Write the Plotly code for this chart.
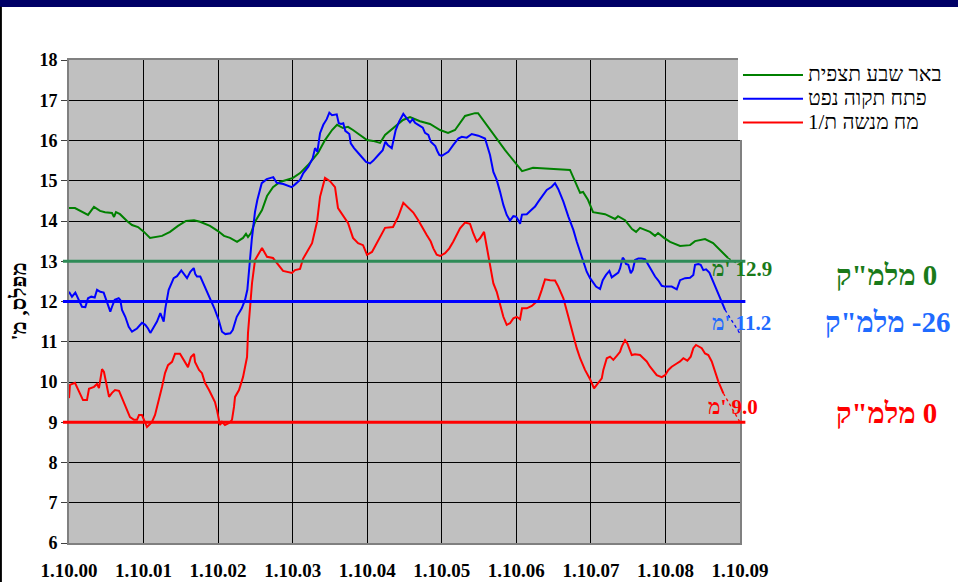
import plotly.graph_objects as go

# ---------------- data ----------------
x_tick_vals = [0, 1, 2, 3, 4, 5, 6, 7, 8, 9]
x_tick_labels = ["1.10.00", "1.10.01", "1.10.02", "1.10.03", "1.10.04",
                 "1.10.05", "1.10.06", "1.10.07", "1.10.08", "1.10.09"]

series_names = ["באר שבע תצפית", "פתח תקוה נפט", "מח מנשה ת/1"]

# years since 1.10.00
green_t = [0.00, 0.08, 0.255, 0.335, 0.416, 0.483, 0.577, 0.604, 0.630, 0.684,
           0.778, 0.845, 0.926, 1.006, 1.087, 1.248, 1.355, 1.462, 1.569, 1.677,
           1.757, 1.891, 1.999, 2.079, 2.160, 2.254, 2.334, 2.374, 2.401, 2.441,
           2.495, 2.589, 2.656, 2.736, 2.830, 2.938, 3.005, 3.099, 3.206, 3.340,
           3.434, 3.528, 3.595, 3.675, 3.742, 3.809, 3.903, 3.997, 4.078, 4.172,
           4.239, 4.346, 4.480, 4.574, 4.708, 4.842, 4.977, 5.084, 5.178, 5.312,
           5.446, 5.487, 5.648, 5.849, 6.077, 6.224, 6.720, 6.787, 6.855, 6.895,
           6.962, 7.029, 7.096, 7.190, 7.324, 7.364, 7.458, 7.552, 7.606, 7.659,
           7.726, 7.793, 7.860, 7.901, 7.981, 8.062, 8.196, 8.330, 8.397, 8.531,
           8.639, 8.733, 8.840]
green_v = [14.32, 14.32, 14.15, 14.35, 14.25, 14.22, 14.20, 14.10, 14.22, 14.17,
           14.00, 13.90, 13.85, 13.73, 13.58, 13.63, 13.73, 13.88, 14.00, 14.02,
           13.98, 13.88, 13.75, 13.63, 13.58, 13.48, 13.58, 13.68, 13.60, 13.70,
           13.98, 14.27, 14.62, 14.84, 14.97, 15.04, 15.07, 15.19, 15.39, 15.69,
           16.01, 16.26, 16.39, 16.31, 16.34, 16.26, 16.14, 16.01, 15.99, 15.94,
           16.14, 16.31, 16.51, 16.58, 16.48, 16.41, 16.26, 16.19, 16.26, 16.61,
           16.68, 16.68, 16.26, 15.76, 15.24, 15.32, 15.27, 14.97, 14.70, 14.72,
           14.52, 14.22, 14.20, 14.17, 14.05, 14.12, 14.02, 13.80, 13.73, 13.83,
           13.78, 13.73, 13.63, 13.70, 13.58, 13.48, 13.38, 13.40, 13.50, 13.55,
           13.45, 13.28, 13.08]

blue_t = [0.00, 0.04, 0.085, 0.12, 0.174, 0.219, 0.255, 0.299, 0.345, 0.376,
          0.42, 0.465, 0.51, 0.554, 0.577, 0.613, 0.667, 0.688, 0.711, 0.755,
          0.801, 0.845, 0.912, 0.979, 1.023, 1.06, 1.091, 1.136, 1.18, 1.225,
          1.248, 1.27, 1.292, 1.337, 1.404, 1.449, 1.506, 1.539, 1.583, 1.627,
          1.673, 1.694, 1.717, 1.761, 1.807, 1.851, 1.895, 1.954, 2.008, 2.052,
          2.097, 2.164, 2.196, 2.25, 2.317, 2.361, 2.392, 2.419, 2.451, 2.495,
          2.526, 2.585, 2.652, 2.74, 2.786, 2.875, 2.987, 3.032, 3.099, 3.143,
          3.21, 3.269, 3.3, 3.331, 3.367, 3.411, 3.457, 3.492, 3.528, 3.591,
          3.618, 3.649, 3.679, 3.706, 3.76, 3.779, 3.823, 3.903, 3.984, 4.038,
          4.082, 4.149, 4.208, 4.243, 4.275, 4.329, 4.382, 4.427, 4.484, 4.53,
          4.574, 4.61, 4.641, 4.685, 4.745, 4.775, 4.82, 4.852, 4.887, 4.913,
          4.94, 4.967, 4.999, 5.044, 5.088, 5.155, 5.222, 5.268, 5.335, 5.402,
          5.49, 5.58, 5.611, 5.647, 5.692, 5.737, 5.781, 5.826, 5.871, 5.915,
          5.96, 5.996, 6.027, 6.05, 6.076, 6.14, 6.193, 6.251, 6.295, 6.341,
          6.408, 6.475, 6.519, 6.563, 6.631, 6.698, 6.765, 6.81, 6.877, 6.944,
          6.989, 7.033, 7.069, 7.123, 7.159, 7.203, 7.248, 7.28, 7.324, 7.368,
          7.391, 7.427, 7.445, 7.471, 7.502, 7.535, 7.561, 7.592, 7.637, 7.682,
          7.726, 7.771, 7.816, 7.861, 7.905, 7.95, 7.995, 8.084, 8.152, 8.196,
          8.263, 8.33, 8.374, 8.397, 8.441, 8.473, 8.508, 8.545, 8.589, 8.643,
          8.71, 8.755, 8.8]
blue_v = [12.24, 12.12, 12.22, 12.08, 11.87, 11.86, 12.08, 12.12, 12.10, 12.29,
          12.24, 12.22, 11.96, 11.75, 11.87, 12.04, 12.08, 12.04, 11.79, 11.62,
          11.37, 11.25, 11.33, 11.47, 11.42, 11.33, 11.22, 11.37, 11.50, 11.71,
          11.58, 11.50, 11.83, 12.29, 12.58, 12.63, 12.77, 12.70, 12.58, 12.74,
          12.83, 12.68, 12.62, 12.62, 12.43, 12.24, 12.08, 11.81, 11.54, 11.25,
          11.19, 11.21, 11.29, 11.62, 11.83, 12.04, 12.29, 12.86, 13.53, 14.23,
          14.52, 14.94, 15.04, 15.09, 14.95, 14.92, 14.84, 14.91, 15.02, 15.19,
          15.35, 15.56, 15.81, 15.72, 16.18, 16.39, 16.53, 16.69, 16.63, 16.65,
          16.43, 16.41, 16.43, 16.24, 16.16, 15.93, 15.81, 15.64, 15.47, 15.43,
          15.50, 15.64, 15.76, 15.97, 15.89, 15.81, 16.26, 16.47, 16.66, 16.55,
          16.45, 16.53, 16.44, 16.39, 16.32, 16.19, 16.14, 15.97, 15.89, 15.86,
          15.74, 15.64, 15.62, 15.66, 15.72, 15.89, 16.05, 16.09, 16.07, 16.16,
          16.12, 16.05, 15.85, 15.64, 15.22, 15.02, 14.73, 14.40, 14.15, 14.01,
          14.12, 14.11, 14.02, 13.93, 14.16, 14.17, 14.26, 14.36, 14.48, 14.60,
          14.77, 14.85, 14.94, 14.79, 14.48, 14.11, 13.78, 13.49, 13.11, 12.74,
          12.58, 12.45, 12.37, 12.31, 12.53, 12.66, 12.76, 12.60, 12.66, 12.72,
          12.82, 13.09, 13.05, 12.93, 12.91, 12.70, 12.78, 13.03, 13.07, 13.07,
          13.05, 12.91, 12.74, 12.62, 12.52, 12.39, 12.37, 12.37, 12.30, 12.53,
          12.58, 12.59, 12.66, 12.91, 12.93, 12.91, 12.78, 12.80, 12.72, 12.49,
          12.20, 12.00, 11.79]

red_t = [0.00, 0.013, 0.08, 0.188, 0.241, 0.268, 0.335, 0.376, 0.402, 0.443,
         0.469, 0.537, 0.577, 0.617, 0.671, 0.738, 0.778, 0.818, 0.872, 0.912,
         0.939, 0.979, 1.006, 1.046, 1.073, 1.113, 1.154, 1.207, 1.248, 1.288,
         1.328, 1.382, 1.422, 1.489, 1.543, 1.596, 1.636, 1.677, 1.69, 1.744,
         1.784, 1.824, 1.878, 1.918, 1.958, 1.985, 2.012, 2.025, 2.052, 2.092,
         2.146, 2.186, 2.213, 2.227, 2.28, 2.334, 2.388, 2.401, 2.455, 2.495,
         2.589, 2.656, 2.736, 2.79, 2.871, 2.991, 3.032, 3.099, 3.139, 3.26,
         3.327, 3.367, 3.434, 3.501, 3.568, 3.608, 3.675, 3.742, 3.809, 3.877,
         3.944, 3.997, 4.064, 4.131, 4.239, 4.346, 4.413, 4.484, 4.551, 4.618,
         4.685, 4.753, 4.798, 4.852, 4.887, 4.932, 4.977, 5.044, 5.101, 5.155,
         5.201, 5.245, 5.312, 5.379, 5.423, 5.469, 5.513, 5.567, 5.603, 5.647,
         5.692, 5.737, 5.781, 5.826, 5.871, 5.915, 5.96, 6.005, 6.05, 6.076,
         6.14, 6.207, 6.251, 6.295, 6.341, 6.385, 6.452, 6.519, 6.563, 6.631,
         6.698, 6.765, 6.81, 6.855, 6.921, 6.989, 7.042, 7.078, 7.146, 7.167,
         7.213, 7.257, 7.301, 7.347, 7.391, 7.414, 7.458, 7.489, 7.525, 7.548,
         7.592, 7.659, 7.704, 7.749, 7.793, 7.838, 7.883, 7.95, 7.995, 8.039,
         8.084, 8.152, 8.196, 8.24, 8.294, 8.339, 8.374, 8.41, 8.441, 8.487,
         8.531, 8.575, 8.621, 8.665, 8.71, 8.777]
red_v = [9.60, 9.93, 9.98, 9.55, 9.55, 9.83, 9.88, 9.95, 9.85, 10.32,
         10.25, 9.63, 9.73, 9.80, 9.78, 9.48, 9.30, 9.13, 9.06, 9.06,
         9.18, 9.18, 9.06, 8.88, 8.93, 9.01, 9.18, 9.55, 9.88, 10.22,
         10.42, 10.50, 10.70, 10.70, 10.55, 10.37, 10.62, 10.70, 10.50, 10.30,
         10.22, 9.98, 9.80, 9.63, 9.50, 9.30, 9.06, 8.93, 9.01, 8.93,
         8.98, 9.06, 9.38, 9.63, 9.80, 10.12, 10.62, 11.22, 12.46, 13.03,
         13.33, 13.11, 13.08, 12.96, 12.76, 12.71, 12.78, 12.81, 13.06, 13.45,
         13.98, 14.60, 15.07, 14.99, 14.84, 14.32, 14.15, 13.95, 13.58, 13.45,
         13.40, 13.16, 13.23, 13.45, 13.83, 13.85, 14.10, 14.45, 14.32, 14.21,
         14.02, 13.78, 13.65, 13.49, 13.32, 13.16, 13.13, 13.20, 13.32, 13.49,
         13.68, 13.82, 13.96, 13.93, 13.69, 13.49, 13.57, 13.73, 13.36, 12.86,
         12.45, 12.24, 11.96, 11.62, 11.42, 11.46, 11.58, 11.62, 11.56, 11.83,
         11.83, 11.89, 11.96, 12.04, 12.29, 12.55, 12.53, 12.52, 12.37, 12.08,
         11.62, 11.13, 10.84, 10.59, 10.30, 10.07, 9.84, 9.93, 10.09, 10.30,
         10.59, 10.63, 10.55, 10.65, 10.75, 10.88, 11.04, 10.96, 10.80, 10.67,
         10.69, 10.67, 10.59, 10.51, 10.38, 10.26, 10.17, 10.12, 10.17, 10.30,
         10.38, 10.46, 10.51, 10.59, 10.53, 10.63, 10.84, 10.92, 10.88, 10.84,
         10.71, 10.67, 10.51, 10.26, 10.01, 9.72]

forecast_values = [12.9, 11.2, 9.0]       # levels forecast at 1.10.09
reference_levels = [13, 12, 9]            # red-line levels
volume_labels = ["0", "-26", "0"]          # million m3

# ---------------- styling ----------------
series_colors = ["#008000", "#0000ff", "#ff0000"]
ref_colors = ["#2e8b57", "#0000ff", "#ff0000"]
text_colors = ["#1a7a1a", "#1f6bff", "#ff0000"]
SERIF = "Liberation Serif"

fig = go.Figure()

all_t = [green_t, blue_t, red_t]
all_v = [green_v, blue_v, red_v]

for name, t, v, c in zip(series_names, all_t, all_v, series_colors):
    fig.add_trace(go.Scatter(x=t, y=v, mode="lines",
                             name='<span style="font-size:21px">' + name + "</span>",
                             line=dict(color=c, width=2), hoverinfo="skip"))

# forecast extensions (thin dotted)
for t, v, f, c in zip(all_t, all_v, forecast_values, series_colors):
    fig.add_trace(go.Scatter(x=[t[-1], x_tick_vals[-1]], y=[v[-1], f], mode="lines",
                             line=dict(color=c, width=1.3, dash="dot"),
                             showlegend=False, hoverinfo="skip"))

shapes = []
# reference horizontal lines
for lvl, c in zip(reference_levels, ref_colors):
    shapes.append(dict(type="line", xref="paper", yref="y", x0=-0.009, x1=1.008,
                       y0=lvl, y1=lvl, line=dict(color=c, width=3)))
# top navy bar and left border
shapes.append(dict(type="rect", xref="paper", yref="paper", x0=-0.11, x1=1.33,
                   y0=1.1097, y1=1.13, fillcolor="#000066", line=dict(width=0), layer="above"))
shapes.append(dict(type="rect", xref="paper", yref="paper", x0=-0.1030, x1=-0.1000,
                   y0=-0.09, y1=1.11, fillcolor="#000000", line=dict(width=0), layer="above"))

annotations = []
# y-axis title (RTL)
annotations.append(dict(text="מפלס, מ'\u200F", xref="paper", yref="paper", x=-0.076, y=0.5,
                        xanchor="center", yanchor="middle",
                        textangle=-90, showarrow=False,
                        font=dict(family=SERIF, size=22, color="black", weight="bold")))

label_pos_y = [0.567, 0.4555, 0.2816]
label_pos_x = [0.955, 0.955, 0.949]
for f, col, lx, ly in zip(forecast_values, text_colors, label_pos_x, label_pos_y):
    annotations.append(dict(text="מ'\u200E " + f"{f:.1f}", xref="paper", yref="paper",
                            x=lx, y=ly, xanchor="left", yanchor="middle", showarrow=False,
                            font=dict(family=SERIF, size=21, color=col, weight="bold")))

vol_pos_y = [0.555, 0.4576, 0.269]
vol_pos_x = [1.219, 1.2206, 1.218]
for vl, col, vx, vy in zip(volume_labels, text_colors, vol_pos_x, vol_pos_y):
    annotations.append(dict(text="מלמ\"ק\u200E " + vl, xref="paper", yref="paper",
                            x=vx, y=vy, xanchor="center", yanchor="middle", showarrow=False,
                            font=dict(family=SERIF, size=29, color=col, weight="bold")))

fig.update_layout(
    width=958, height=582,
    margin=dict(l=69, r=218, t=60, b=39, autoexpand=False),
    paper_bgcolor="white",
    plot_bgcolor="#c0c0c0",
    showlegend=True,
    legend=dict(x=0.997, y=1.004, xanchor="left", yanchor="top", bgcolor="white",
                font=dict(family=SERIF, size=16, color="black"),
                itemwidth=60, tracegroupgap=0, borderwidth=0),
    xaxis=dict(range=[0, 9], tickmode="array", tickvals=x_tick_vals, ticktext=x_tick_labels,
               showgrid=True, gridcolor="black", gridwidth=1, zeroline=False,
               ticks="", ticklabelstandoff=9, automargin=False,
               showline=True, linecolor="#808080", linewidth=2, mirror=True,
               tickfont=dict(family=SERIF, size=19, color="black", weight="bold")),
    yaxis=dict(range=[6, 18], tick0=6, dtick=1, showgrid=True, gridcolor="black",
               gridwidth=1, zeroline=False, ticks="outside", ticklen=6, tickcolor="#404040",
               showline=True, linecolor="#808080", linewidth=2, mirror=True, automargin=False,
               tickfont=dict(family=SERIF, size=18, color="black", weight="bold")),
    shapes=shapes,
    annotations=annotations,
)

fig.write_html("out.html", config={"displayModeBar": False},
               post_script="document.body.style.margin='0';document.body.style.overflow='hidden';")
